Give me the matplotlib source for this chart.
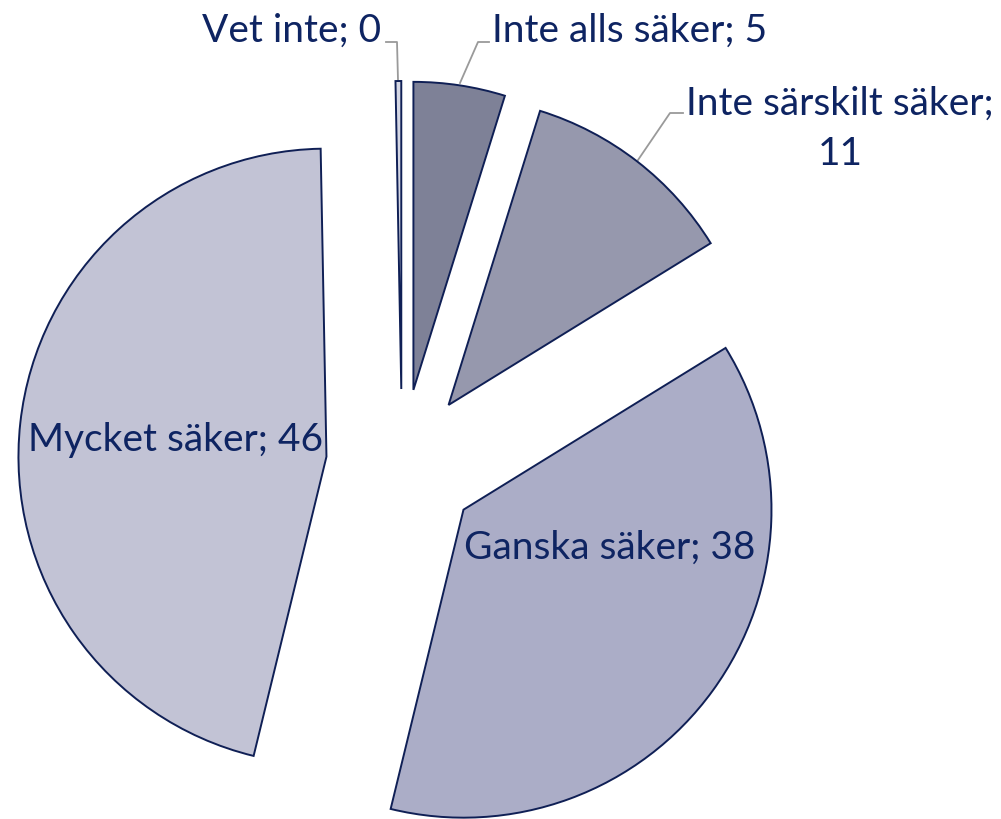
import matplotlib.pyplot as plt

# Data (clockwise from 12 o'clock)
labels = ["Inte alls säker", "Inte särskilt säker", "Ganska säker", "Mycket säker", "Vet inte"]
values = [4.8, 11.4, 37.6, 45.9, 0.3]      # slice sizes as measured from the angles
shown = ["5", "11", "38", "46", "0"]        # values printed in the labels
colors = ["#7E8197", "#9698AD", "#ABADC7", "#C2C3D5", "#D5D7E4"]

plt.rcParams['font.family'] = ['Lato', 'DejaVu Sans']
text_color = "#0E2462"
edge_color = "#0F1F55"

fig = plt.figure(figsize=(10.01, 8.19), dpi=100)
ax = fig.add_axes([0, 0, 1, 1])

# pixel-ish coordinates, y measured upward; explode is in data units
ax.pie(values, colors=colors, startangle=90, counterclock=False,
       center=(402, 354), radius=308, explode=[76] * len(values),
       wedgeprops=dict(edgecolor=edge_color, linewidth=1.4), frame=True)
ax.set_xlim(0, 1001)
ax.set_ylim(0, 819)
ax.axis('off')

H = 819
lead = dict(color="#9a9a9a", linewidth=1.3, zorder=0)
# leader lines
ax.plot([386, 397, 398], [H - 42, H - 42, H - 80], **lead)
ax.plot([460, 478, 489], [H - 83, H - 42, H - 42], **lead)
ax.plot([638, 670, 683], [H - 160, H - 113, H - 113], **lead)

fs = 28
ax.text(381, H - 31, f"{labels[4]}; {shown[4]}", ha='right', va='center', fontsize=fs, color=text_color)
ax.text(492, H - 31, f"{labels[0]}; {shown[0]}", ha='left', va='center', fontsize=fs, color=text_color)
ax.text(840, H - 129, f"{labels[1]};\n{shown[1]}", ha='center', va='center', fontsize=fs,
        color=text_color, linespacing=1.5)
ax.text(176, H - 440, f"{labels[3]}; {shown[3]}", ha='center', va='center', fontsize=fs, color=text_color)
ax.text(610, H - 548, f"{labels[2]}; {shown[2]}", ha='center', va='center', fontsize=fs, color=text_color)

fig.savefig("out.png", dpi=100)
